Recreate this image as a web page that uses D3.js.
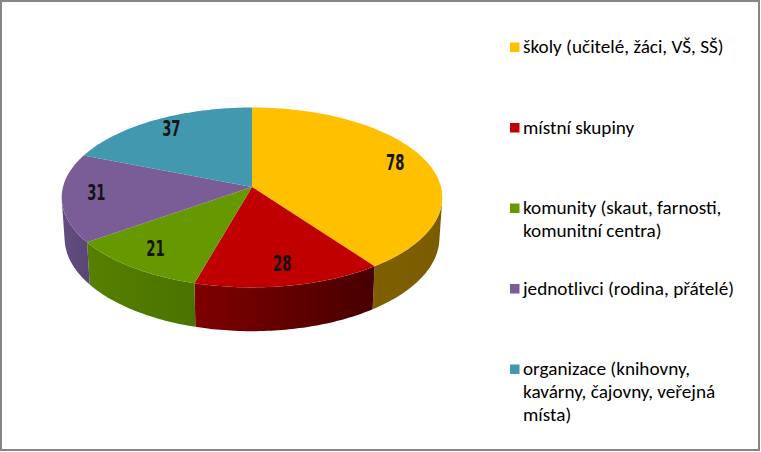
<!DOCTYPE html>
<html>
<head>
<meta charset="utf-8">
<script src="https://cdn.jsdelivr.net/npm/d3@7"></script>
<style>
  body { margin: 0; background: #fff; }
  svg { display: block; }
</style>
</head>
<body>
<svg id="chart"></svg>
<script>
// data
const categories = [
  'školy (učitelé, žáci, VŠ, SŠ)',
  'místní skupiny',
  'komunity (skaut, farnosti, komunitní centra)',
  'jednotlivci (rodina, přátelé)',
  'organizace (knihovny, kavárny, čajovny, veřejná místa)'
];
const legendLines = [
  ['školy (učitelé, žáci, VŠ, SŠ)'],
  ['místní skupiny'],
  ['komunity (skaut, farnosti,', 'komunitní centra)'],
  ['jednotlivci (rodina, přátelé)'],
  ['organizace (knihovny,', 'kavárny, čajovny, veřejná', 'místa)']
];
const values = [78, 28, 21, 31, 37];

const topColors = ['#FFC000', '#C00000', '#669900', '#7A5C96', '#4198AF'];
const sideColors = [
  ['#7F6000', '#7A5C00'],
  ['#7E0000', '#470000'],
  ['#577F00', '#4A7300'],
  ['#634E80', '#5A4776'],
  ['#2C6878', '#245663']
];

const width = 761, height = 452;
const svg = d3.select('#chart')
  .attr('width', width)
  .attr('height', height);

svg.append('rect')
  .attr('x', 1).attr('y', 1)
  .attr('width', width - 3).attr('height', height - 3)
  .attr('fill', '#fff')
  .attr('stroke', '#868686')
  .attr('stroke-width', 2);

// 3d projection of the pie disk
const cx = 252, cy = 187, R = 189;
const tilt = 28 * Math.PI / 180;
const sT = Math.sin(tilt), cT = Math.cos(tilt);
const D = 7.6;        // camera distance (in radii)
const depthH = 0.245; // thickness (in radii)

function proj(a, r, Y) {
  const X = r * Math.sin(a), Z = -r * Math.cos(a);
  const depth = Z * cT + Y * sT;
  const sy = Z * sT - Y * cT;
  const k = D / (D - depth);
  return [cx + R * X * k, cy + R * sy * k];
}

const pie = d3.pie().sort(null).value(d => d);
const arcs = pie(values);

const line = d3.line();
const step = Math.PI / 180;

function samples(a0, a1) {
  const n = Math.max(2, Math.ceil((a1 - a0) / step));
  return d3.range(n + 1).map(i => a0 + (a1 - a0) * i / n);
}

// visible range of outer wall
const aLim = Math.acos(-1 / (D * cT));
const vis0 = aLim, vis1 = 2 * Math.PI - aLim;

const defs = svg.append('defs');
const gWalls = svg.append('g');
const gTops = svg.append('g');

arcs.forEach((d, i) => {
  const a0 = Math.max(d.startAngle, vis0);
  const a1 = Math.min(d.endAngle, vis1);
  if (a1 <= a0) return;
  const angs = samples(a0, a1);
  const topPts = angs.map(a => proj(a, 1, 0));
  const botPts = angs.map(a => proj(a, 1, -depthH)).reverse();
  const xs = topPts.map(p => p[0]);
  const gid = 'side' + i;
  const grad = defs.append('linearGradient')
    .attr('id', gid)
    .attr('gradientUnits', 'userSpaceOnUse')
    .attr('x1', d3.min(xs)).attr('x2', d3.max(xs))
    .attr('y1', 0).attr('y2', 0);
  grad.append('stop').attr('offset', 0).attr('stop-color', sideColors[i][0]);
  grad.append('stop').attr('offset', 1).attr('stop-color', sideColors[i][1]);
  gWalls.append('path')
    .attr('d', line(topPts.concat(botPts)) + 'Z')
    .attr('fill', `url(#${gid})`);
});

arcs.forEach((d, i) => {
  const pts = [proj(0, 0, 0)].concat(samples(d.startAngle, d.endAngle).map(a => proj(a, 1, 0)));
  gTops.append('path')
    .attr('d', line(pts) + 'Z')
    .attr('fill', topColors[i]);
});

// data labels
const labelR = 0.82;
svg.append('g')
  .selectAll('text')
  .data(arcs)
  .join('text')
  .attr('transform', d => {
    const p = proj((d.startAngle + d.endAngle) / 2, labelR, 0);
    return `translate(${p[0]},${p[1] - 3}) scale(0.7,1)`;
  })
  .attr('dy', '0.36em')
  .attr('text-anchor', 'middle')
  .attr('font-family', '"DejaVu Sans", sans-serif')
  .attr('font-stretch', 'condensed')
  .attr('font-weight', 'bold')
  .attr('font-size', 21)
  .attr('fill', '#141414')
  .text(d => d.data);

// legend
const legend = svg.append('g')
  .attr('font-family', 'Carlito, Lato, sans-serif')
  .attr('font-size', 19.2)
  .attr('fill', '#000');

const legendY = d3.scaleLinear().domain([0, 1]).range([53, 133.5]);

legendLines.forEach((lines, i) => {
  const y0 = legendY(i);
  legend.append('rect')
    .attr('x', 510).attr('y', y0 - 10.5)
    .attr('width', 9.5).attr('height', 9.5)
    .attr('fill', topColors[i]);
  legend.append('text')
    .attr('x', 523).attr('y', y0)
    .selectAll('tspan')
    .data(lines)
    .join('tspan')
    .attr('x', 523)
    .attr('dy', (l, j) => j === 0 ? 0 : 23)
    .text(l => l);
});
</script>
</body>
</html>
